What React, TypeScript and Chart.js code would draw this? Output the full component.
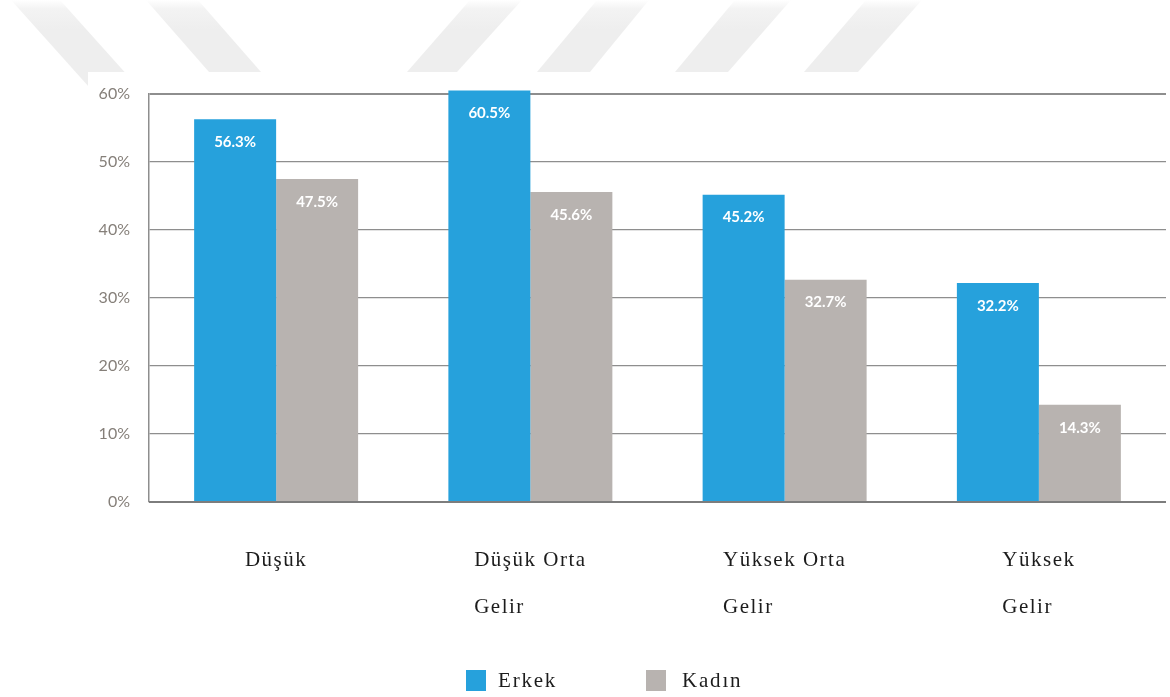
import React, { useEffect, useRef } from "react";
import { Chart, registerables } from "chart.js";

Chart.register(...registerables);

const categoryLines: string[][] = [
  ["Düşük"],
  ["Düşük Orta", "Gelir"],
  ["Yüksek Orta", "Gelir"],
  ["Yüksek", "Gelir"],
];
const seriesNames = ["Erkek", "Kadın"];
const erkekValues = [56.3, 60.5, 45.2, 32.2];
const kadinValues = [47.5, 45.6, 32.7, 14.3];
const yTicks = [0, 10, 20, 30, 40, 50, 60];

const BLUE = "#26a1dc";
const GRAY = "#b8b3b0";
const GRID = "#8e8e8e";
const SERIF = "'Liberation Serif', 'Times New Roman', serif";

const decorPlugin = {
  id: "decor",
  beforeDraw(chart: any) {
    const ctx = chart.ctx as CanvasRenderingContext2D;
    ctx.save();
    ctx.fillStyle = "#ffffff";
    ctx.fillRect(0, 0, chart.width, chart.height);
    const grad = ctx.createLinearGradient(0, 0, 0, 30);
    grad.addColorStop(0, "#ffffff");
    grad.addColorStop(0.3, "#f3f3f3");
    grad.addColorStop(1, "#eeeeee");
    ctx.fillStyle = grad;
    const stripes: number[][] = [
      [11, 60, 89, 138, 87],
      [146, 198, 209, 261, 72],
      [470, 522, 407, 457, 72],
      [597, 649, 537, 590, 72],
      [735, 791, 675, 728, 72],
      [866, 922, 804, 858, 72],
    ];
    stripes.forEach(([a, b, c, d, yb]) => {
      ctx.beginPath();
      ctx.moveTo(a, 0);
      ctx.lineTo(b, 0);
      ctx.lineTo(d, yb);
      ctx.lineTo(c, yb);
      ctx.closePath();
      ctx.fill();
    });
    ctx.fillStyle = "#ffffff";
    ctx.fillRect(88, 72, chart.width - 88, chart.height - 72);
    ctx.restore();
  },
};

const overlayPlugin = {
  id: "overlay",
  afterDatasetsDraw(chart: any) {
    const ctx = chart.ctx as CanvasRenderingContext2D;
    const area = chart.chartArea;
    const xs = chart.scales.x;
    const ys = chart.scales.y;
    ctx.save();
    const y0 = ys.getPixelForValue(0);
    ctx.strokeStyle = "#7d7d7d";
    ctx.lineWidth = 2;
    ctx.beginPath();
    ctx.moveTo(area.left, y0);
    ctx.lineTo(area.right, y0);
    ctx.stroke();

    ctx.fillStyle = "#ffffff";
    ctx.font = "bold 15px Lato, sans-serif";
    ctx.textAlign = "center";
    ctx.textBaseline = "middle";
    chart.data.datasets.forEach((ds: any, di: number) => {
      const meta = chart.getDatasetMeta(di);
      meta.data.forEach((bar: any, i: number) => {
        ctx.fillText(ds.data[i].toFixed(1) + "%", bar.x, bar.y + 23);
      });
    });

    ctx.fillStyle = "#1c1c1c";
    ctx.font = "21px " + SERIF;
    ctx.textAlign = "left";
    (ctx as any).letterSpacing = "1.5px";
    categoryLines.forEach((lines, i) => {
      const cx = xs.getPixelForValue(i);
      const w = Math.max(...lines.map((l) => ctx.measureText(l).width));
      const left = cx - w / 2;
      lines.forEach((line, li) => {
        ctx.fillText(line, left, y0 + 58 + li * 47);
      });
    });

    const colors = [BLUE, GRAY];
    const boxX = [466, 646];
    const ly = chart.height - 17;
    ctx.font = "21px " + SERIF;
    (ctx as any).letterSpacing = "1.8px";
    chart.data.datasets.forEach((ds: any, di: number) => {
      ctx.fillStyle = colors[di];
      ctx.fillRect(boxX[di], ly - 10, 20, 21);
      ctx.fillStyle = "#1c1c1c";
      ctx.fillText(ds.label, boxX[di] + 32 + di * 4, ly + 1);
    });
    (ctx as any).letterSpacing = "0px";
    ctx.restore();
  },
};

export default function App() {
  const ref = useRef<HTMLCanvasElement | null>(null);
  useEffect(() => {
    if (!ref.current) return;
    const chart = new Chart(ref.current, {
      type: "bar",
      data: {
        labels: categoryLines.map((l) => l.join(" ")),
        datasets: [
          {
            label: seriesNames[0],
            data: erkekValues,
            backgroundColor: BLUE,
            barPercentage: 1,
            categoryPercentage: 0.645,
            clip: false as any,
          },
          {
            label: seriesNames[1],
            data: kadinValues,
            backgroundColor: GRAY,
            barPercentage: 1,
            categoryPercentage: 0.645,
            clip: false as any,
          },
        ],
      },
      options: {
        responsive: false,
        animation: false,
        devicePixelRatio: 1,
        layout: { padding: { top: 94, bottom: 195, left: 0, right: 4 } },
        plugins: {
          legend: { display: false },
          tooltip: { enabled: false },
        },
        scales: {
          x: {
            grid: { display: false },
            border: { display: false },
            ticks: { display: false },
            afterFit: (s: any) => {
              s.height = 0;
            },
          },
          y: {
            min: yTicks[0],
            max: yTicks[yTicks.length - 1],
            afterBuildTicks: (s: any) => {
              s.ticks = yTicks.map((v) => ({ value: v }));
            },
            afterFit: (s: any) => {
              s.width = 149;
            },
            grid: {
              color: GRID,
              lineWidth: (c: any) => (c.tick && c.tick.value === 60 ? 2 : 1.3),
              drawTicks: false,
            },
            border: { color: GRID, width: 1.5 },
            ticks: {
              padding: 19,
              color: "#857f79",
              font: { family: "Lato", size: 16 },
              callback: (v: any) => v + "%",
            },
          },
        },
      },
      plugins: [decorPlugin, overlayPlugin],
    });
    return () => chart.destroy();
  }, []);
  return (
    <div style={{ position: "fixed", left: 0, top: 0, width: 1170, height: 697, background: "#fff" }}>
      <canvas ref={ref} width={1170} height={697} />
    </div>
  );
}
